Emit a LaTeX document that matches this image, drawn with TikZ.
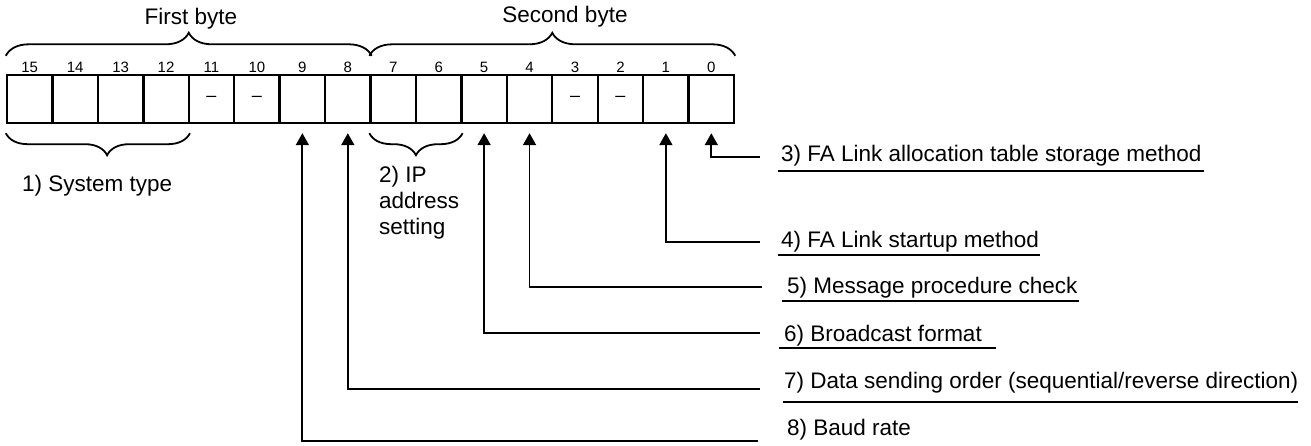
\documentclass[tikz,border=0pt]{standalone}
\usepackage{fontspec}
\setmainfont{Liberation Sans}
\usetikzlibrary{arrows.meta,decorations.pathreplacing,calc}

\begin{document}
\begin{tikzpicture}[
    x=1pt, y=-1pt,
    cell/.style={rectangle, draw, line width=2.4pt, minimum width=45.44pt, minimum height=48pt, inner sep=0pt},
    bitnum/.style={font=\fontsize{15}{17}\selectfont, inner sep=0pt},
    unused/.style={font=\fontsize{18}{20}\selectfont, inner sep=0pt},
    title/.style={font=\fontsize{22.5}{26}\selectfont, inner sep=0pt},
    desc/.style={font=\fontsize{22.5}{26}\selectfont, anchor=base west, inner sep=0pt},
    ubrace/.style={decorate, decoration={brace, amplitude=23pt}, line width=1.8pt},
    lbrace/.style={decorate, decoration={brace, mirror, amplitude=22pt}, line width=1.8pt},
    conn/.style={-{Triangle[width=13pt,length=12pt]}, line width=1.8pt, shorten >=9pt},
    uline/.style={line width=2.8pt}
]
\useasboundingbox (0,0) rectangle (1311,446);

% Register cells and bit numbers
\foreach \b [evaluate=\b as \cx using 7+45.44*(15.5-\b)] in {15,14,...,0} {
    \node[cell] (c\b) at (\cx,99) {};
    \node[bitnum] (n\b) at (\cx,67) {\b};
}
\foreach \b in {11,10,3,2}
    \node[unused] (d\b) at (c\b) {--};

% Byte braces
\draw[ubrace] ([yshift=18pt]c15.north west) -- ([yshift=18pt]c8.north east);
\node[title, anchor=base] (first) at (191,25) {First byte};
\draw[ubrace] ([yshift=18pt]c7.north west) -- ([yshift=18pt]c0.north east);
\node[title, anchor=base] (second) at (565,23) {Second byte};

% Field braces
\draw[lbrace, decoration={aspect=0.55}] ([yshift=-9pt]c15.south west) -- ([yshift=-9pt]c12.south east);
\node[desc] (sys) at (22,192) {1) System type};
\draw[lbrace] ([yshift=-9pt]c7.south west) -- ([yshift=-9pt]c6.south east);
\node[title, align=left, anchor=north west] (ip) at (379,166) {2) IP\\address\\setting};

% Field descriptions
\node[desc] (l3) at (781,162) {3) FA Link allocation table storage method};
\node[desc] (l4) at (781,248) {4) FA Link startup method};
\node[desc] (l5) at (787,293) {5) Message procedure check};
\node[desc] (l6) at (784,341) {6) Broadcast format};
\node[desc] (l7) at (784,388) {7) Data sending order (sequential/reverse direction)};
\node[desc] (l8) at (787,435) {8) Baud rate};

\draw[uline] ([shift={(-3pt,-9pt)}]l3.base west) -- ([shift={(2pt,-9pt)}]l3.base east);
\draw[uline] ([shift={(-3pt,-7pt)}]l4.base west) -- ([shift={(1pt,-7pt)}]l4.base east);
\draw[uline] ([shift={(-5pt,-8pt)}]l5.base west) -- ([shift={(1pt,-8pt)}]l5.base east);
\draw[uline] ([shift={(-5pt,-7pt)}]l6.base west) -- ([shift={(14pt,-7pt)}]l6.base east);
\draw[uline] ([shift={(-1pt,-14pt)}]l7.base west) -- ([shift={(0pt,-14pt)}]l7.base east);

% Arrows - line ends
\coordinate (e3) at (760,157);
\coordinate (e4) at (760,242);
\coordinate (e5) at (762,287);
\coordinate (e6) at (760,333);
\coordinate (e7) at (760,389);
\coordinate (e8) at (758,441);

\draw[conn] (e3) -| (c0.south);
\draw[conn] (e4) -| (c1.south);
\draw[conn] (e5) -| (c4.south);
\draw[conn] (e6) -| (c5.south);
\draw[conn] (e7) -| (c8.south);
\draw[conn] (e8) -| (c9.south);

\end{tikzpicture}
\end{document}
